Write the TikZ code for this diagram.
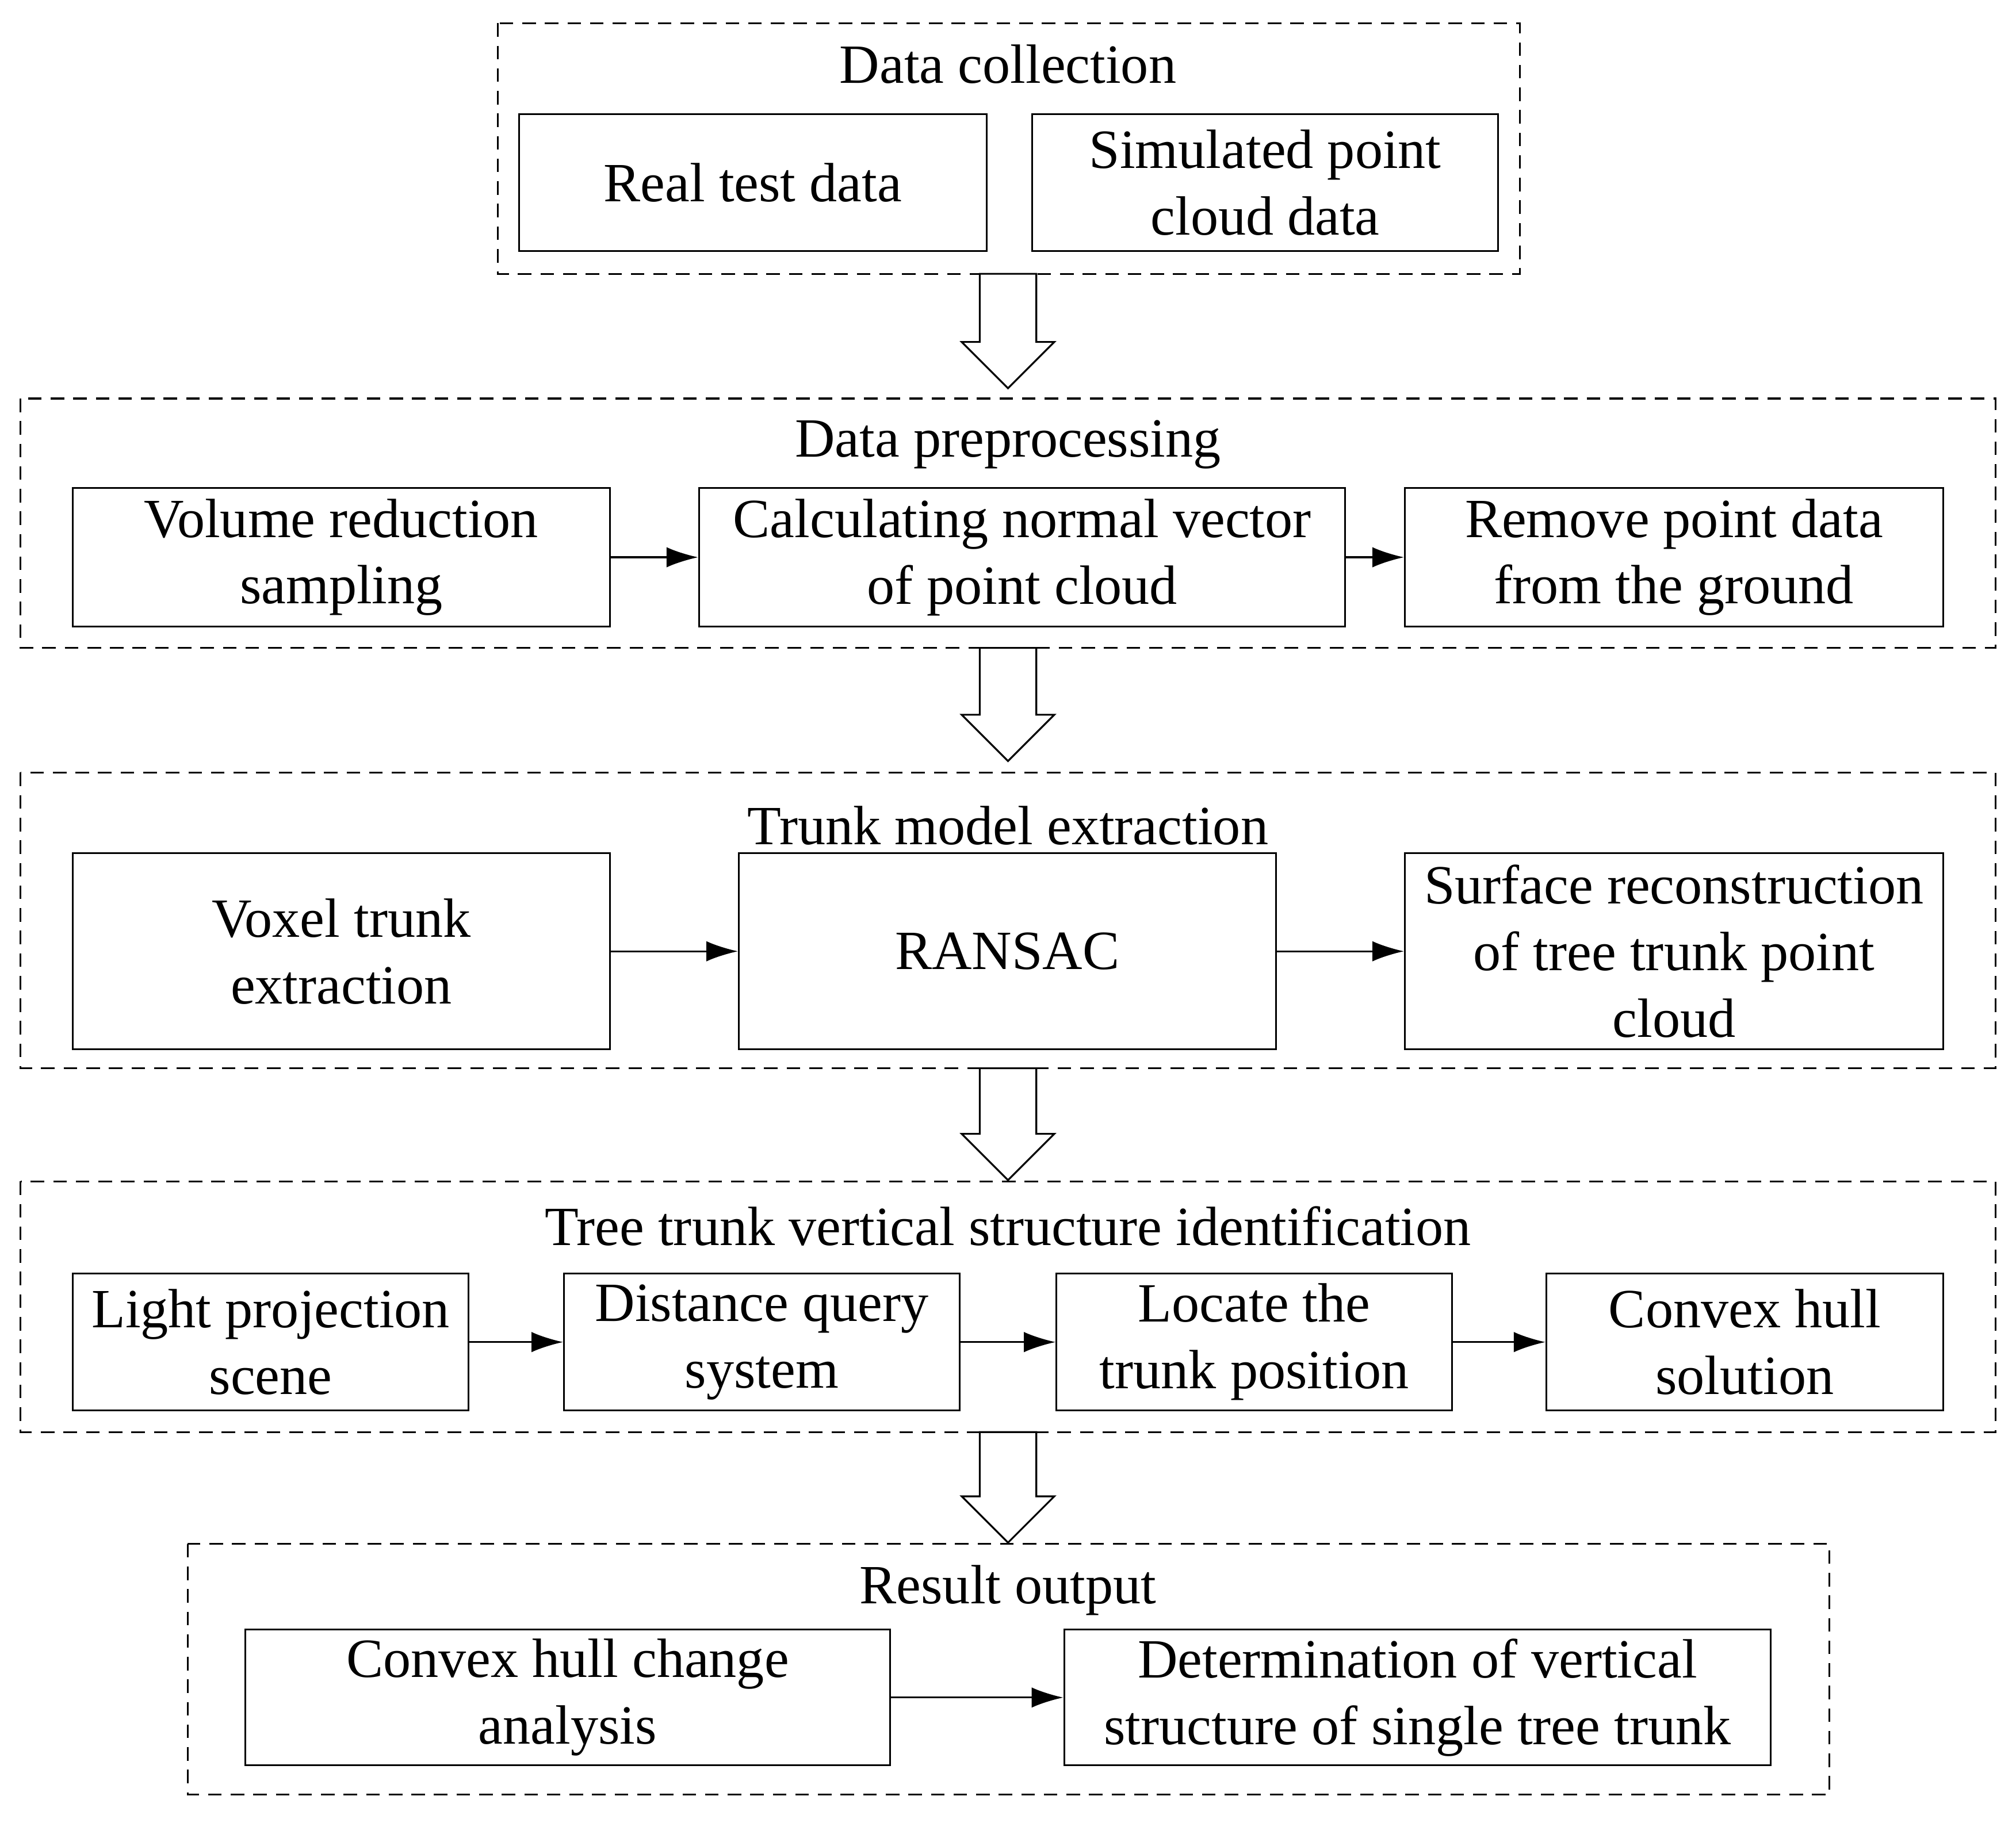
\documentclass[tikz,border=0pt]{standalone}
\usepackage{fontspec}
\setmainfont{Liberation Serif}
\usetikzlibrary{arrows.meta}
\begin{document}
\begin{tikzpicture}[x=0.02cm,y=-0.02cm,
  box/.style={draw,thick,inner sep=0pt,align=center,font=\fontsize{24.5}{29.5}\selectfont},
  group/.style={draw,thick,dash pattern=on 6pt off 4pt},
  ttl/.style={font=\fontsize{24.5}{29.5}\selectfont},
  arr/.style={-{Latex[length=14pt,width=9pt]},thick}]
\useasboundingbox (0,0) rectangle (1568,1418);
% groups
\draw[group] (387,18) rectangle (1182,213);
\draw[group] (16,310) rectangle (1552,504);
\draw[group] (16,601) rectangle (1552,831);
\draw[group] (16,919) rectangle (1552,1114);
\draw[group] (146,1201) rectangle (1423,1396);
\node[ttl] (t1) at (784,50) {Data collection};
\node[ttl] (t2) at (784,346) {Data preprocessing};
\node[ttl] (t3) at (784,642) {Trunk model extraction};
\node[ttl] (t4) at (784,954) {Tree trunk vertical structure identification};
\node[ttl] (t5) at (784,1237) {Result output};
% boxes
\newcommand{\bx}[6]{\node[box,minimum width=#4*0.02cm-0.8pt,minimum height=#5*0.02cm-0.8pt] (#1) at (#2,#3) {#6};}
\bx{a1}{585.5}{142}{365}{108}{Real test data}
\bx{a2}{984}{142}{364}{108}{Simulated point\\cloud data}
\bx{b1}{265.5}{433.5}{419}{109}{Volume reduction\\sampling}
\bx{b2}{795}{433.5}{504}{109}{Calculating normal vector\\of point cloud}
\bx{b3}{1302}{433.5}{420}{109}{Remove point data\\from the ground}
\bx{c1}{265.5}{740}{419}{154}{Voxel trunk\\extraction}
\bx{c2}{783.5}{740}{419}{154}{RANSAC}
\bx{c3}{1302}{740}{420}{154}{Surface reconstruction\\of tree trunk point\\cloud}
\bx{d1}{210.5}{1044}{309}{108}{Light projection\\scene}
\bx{d2}{592.5}{1044}{309}{108}{Distance query\\system}
\bx{d3}{975.5}{1044}{309}{108}{Locate the\\trunk position}
\bx{d4}{1357}{1044}{310}{108}{Convex hull\\solution}
\bx{e1}{441.5}{1320.5}{503}{107}{Convex hull change\\analysis}
\bx{e2}{1102.5}{1320.5}{551}{107}{Determination of vertical\\structure of single tree trunk}
% connectors
\draw[arr] (b1) -- (b2); \draw[arr] (b2) -- (b3);
\draw[arr] (c1) -- (c2); \draw[arr] (c2) -- (c3);
\draw[arr] (d1) -- (d2); \draw[arr] (d2) -- (d3); \draw[arr] (d3) -- (d4);
\draw[arr] (e1) -- (e2);
% block arrows
\foreach \y/\h in {213/89,504/88,831/87,1114/86}{
  \draw[thick,fill=white] (762,\y) -- (806,\y) -- (806,\y+\h-36) -- (820,\y+\h-36)
    -- (784,\y+\h) -- (748,\y+\h-36) -- (762,\y+\h-36) -- cycle;
}
\end{tikzpicture}
\end{document}
